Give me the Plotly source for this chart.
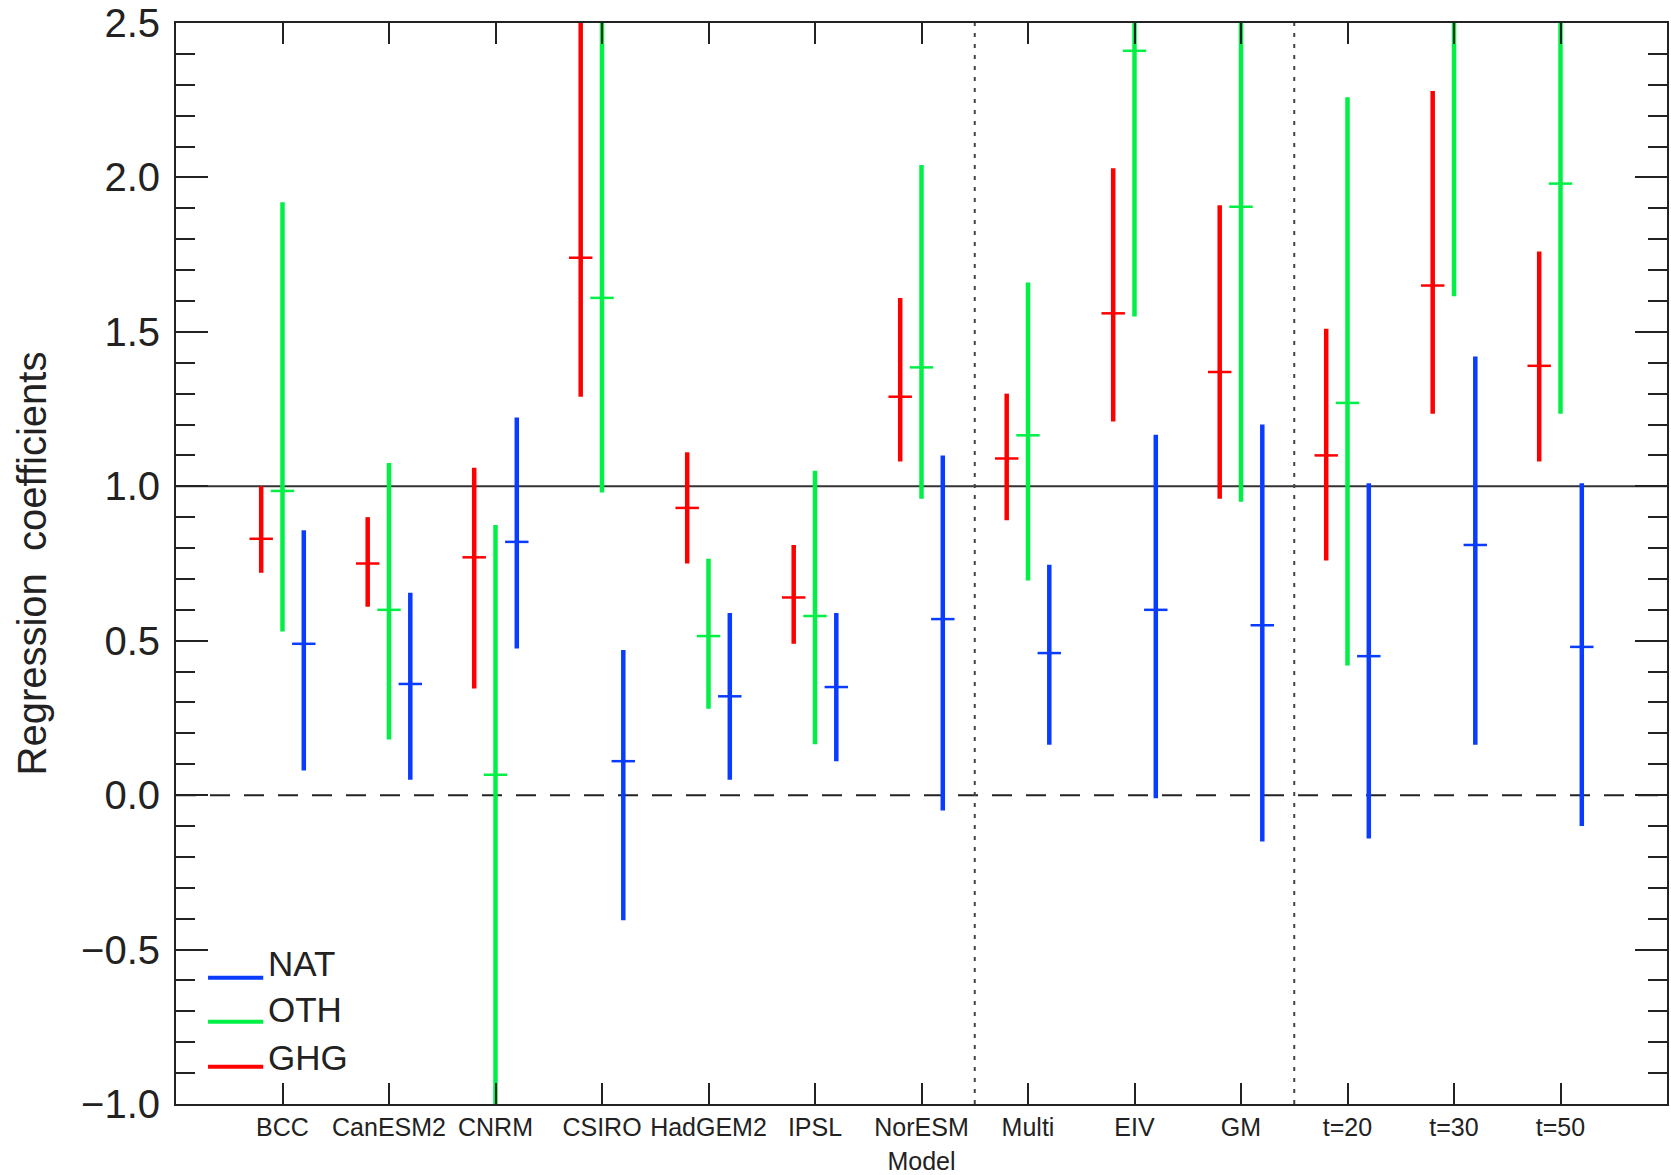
import plotly.graph_objects as go

models = ["BCC", "CanESM2", "CNRM", "CSIRO", "HadGEM2", "IPSL", "NorESM",
          "Multi", "EIV", "GM", "t=20", "t=30", "t=50"]

ghg_best = [0.83, 0.75, 0.77, 1.74, 0.93, 0.64, 1.29, 1.09, 1.56, 1.37, 1.10, 1.65, 1.39]
ghg_lo   = [0.72, 0.61, 0.345, 1.29, 0.75, 0.49, 1.08, 0.89, 1.21, 0.96, 0.76, 1.235, 1.08]
ghg_hi   = [1.00, 0.90, 1.06, 2.90, 1.11, 0.81, 1.61, 1.30, 2.03, 1.91, 1.51, 2.28, 1.76]

oth_best = [0.985, 0.60, 0.066, 1.61, 0.515, 0.58, 1.385, 1.165, 2.41, 1.905, 1.27, 2.70, 1.98]
oth_lo   = [0.53, 0.18, -1.30, 0.98, 0.28, 0.165, 0.96, 0.695, 1.55, 0.95, 0.42, 1.615, 1.235]
oth_hi   = [1.92, 1.075, 0.875, 3.00, 0.765, 1.05, 2.04, 1.66, 3.20, 2.90, 2.26, 3.80, 2.75]

nat_best = [0.49, 0.36, 0.82, 0.11, 0.32, 0.35, 0.57, 0.46, 0.60, 0.55, 0.45, 0.81, 0.48]
nat_lo   = [0.08, 0.05, 0.475, -0.405, 0.05, 0.11, -0.05, 0.163, -0.01, -0.15, -0.14, 0.163, -0.10]
nat_hi   = [0.858, 0.655, 1.223, 0.47, 0.59, 0.59, 1.10, 0.746, 1.167, 1.20, 1.01, 1.42, 1.01]

series = [
    ("GHG", "#ff0000", -0.2, ghg_best, ghg_lo, ghg_hi),
    ("OTH", "#00f046", 0.0, oth_best, oth_lo, oth_hi),
    ("NAT", "#0a3cff", 0.2, nat_best, nat_lo, nat_hi),
]

FONT = "Liberation Sans"
TXT = "#222222"
CAP = 0.11

fig = go.Figure()
for name, color, off, best, lo, hi in series:
    vx, vy, cx, cy = [], [], [], []
    for i in range(len(models)):
        xc = i + 1 + off
        vx += [xc, xc, None]
        vy += [lo[i], hi[i], None]
        cx += [xc - CAP, xc + CAP, None]
        cy += [best[i], best[i], None]
    fig.add_trace(go.Scatter(x=vx, y=vy, mode="lines", name=name,
                             line=dict(color=color, width=4.5), showlegend=False,
                             hoverinfo="skip"))
    fig.add_trace(go.Scatter(x=cx, y=cy, mode="lines", name=name + " best",
                             line=dict(color=color, width=2.5), showlegend=False,
                             hoverinfo="skip"))

# reference lines
fig.add_shape(type="line", xref="paper", yref="y", x0=0, x1=1, y0=1, y1=1,
              line=dict(color="#333333", width=2), layer="below")
fig.add_shape(type="line", xref="paper", yref="y", x0=0, x1=1, y0=0, y1=0,
              line=dict(color="#222222", width=2, dash="20px,14px"), layer="below")
for xv in [7.5, 10.5]:
    fig.add_shape(type="line", xref="x", yref="paper", x0=xv, x1=xv, y0=0, y1=1,
                  line=dict(color="#444444", width=2, dash="4px,7px"), layer="below")

# legend (manual, as in the original)
leg = [("NAT", "#0a3cff", 0.1168, 0.130),
       ("OTH", "#00f046", 0.0761, 0.087),
       ("GHG", "#ff0000", 0.0345, 0.043)]
for name, color, yl, yt in leg:
    fig.add_shape(type="line", xref="paper", yref="paper", x0=0.0215, x1=0.0585,
                  y0=yl, y1=yl, line=dict(color=color, width=4))
    fig.add_annotation(xref="paper", yref="paper", x=0.0605, y=yt, text=name,
                       showarrow=False, xanchor="left", yanchor="middle",
                       font=dict(family=FONT, size=35, color=TXT))

fig.update_layout(
    width=1671, height=1175,
    margin=dict(l=176, r=4, t=23, b=71),
    paper_bgcolor="white", plot_bgcolor="white",
    showlegend=False,
    font=dict(family=FONT, color=TXT),
)
fig.update_xaxes(
    range=[0, 14], tickvals=list(range(1, 14)), ticktext=models,
    ticks="inside", ticklen=21, tickwidth=2, tickcolor="#222",
    showline=True, linewidth=2, linecolor="#222", mirror="ticks",
    showgrid=False, zeroline=False, automargin=False,
    tickfont=dict(family=FONT, size=25, color=TXT),
    title=dict(text="Model", font=dict(family=FONT, size=25, color=TXT), standoff=12),
)
fig.update_yaxes(
    range=[-1.0, 2.5], tickvals=[-1.0, -0.5, 0.0, 0.5, 1.0, 1.5, 2.0, 2.5],
    ticktext=["\u22121.0", "\u22120.5", "0.0", "0.5", "1.0", "1.5", "2.0", "2.5"],
    ticks="inside", ticklen=32, tickwidth=2, tickcolor="#222",
    minor=dict(dtick=0.1, ticks="inside", ticklen=19, tickwidth=2, tickcolor="#222"),
    showline=True, linewidth=2, linecolor="#222", mirror="ticks",
    showgrid=False, zeroline=False, automargin=False,
    tickfont=dict(family=FONT, size=40, color=TXT),
    ticklabelstandoff=6,
    title=dict(text="Regression  coefficients", font=dict(family=FONT, size=40, color=TXT),
               standoff=22),
)

fig.write_html("out.html",
               config={"displayModeBar": False},
               post_script="document.body.style.margin='0px';document.body.style.overflow='hidden';")
